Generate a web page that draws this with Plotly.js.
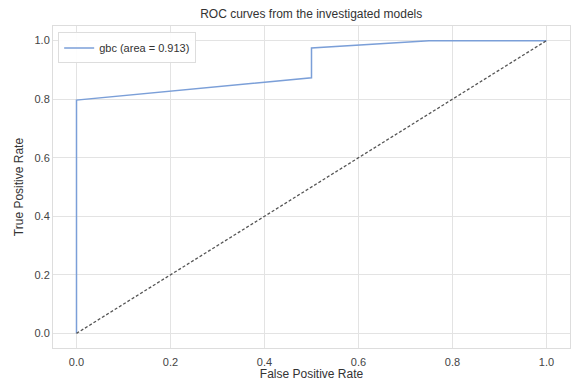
<!DOCTYPE html>
<html><head><meta charset="utf-8">
<script src="https://cdn.plot.ly/plotly-3.0.1.min.js"></script>
<style>html,body{margin:0;padding:0;background:#fff}</style>
</head><body><div id="chart" style="width:571px;height:381px"></div>
<script>
const fpr = [0, 0, 0.5, 0.5, 0.75, 1.0];
const tpr = [0, 0.797, 0.873, 0.975, 1.0, 1.0];
const diagX = [0, 1];
const diagY = [0, 1];
const seriesName = 'gbc (area = 0.913)';
const xTicks = [0, 0.2, 0.4, 0.6, 0.8, 1.0];
const yTicks = [0, 0.2, 0.4, 0.6, 0.8, 1.0];
const fnt = 'Liberation Sans, Arial, sans-serif';
const data = [
  {x: fpr, y: tpr, mode: 'lines', name: seriesName, line: {color: '#7b9fd8', width: 1.5}},
  {x: diagX, y: diagY, mode: 'lines', showlegend: false, line: {color: '#555', width: 1.3, dash: '3px,2px'}}
];
const axisCommon = {
  showline: true, linecolor: '#dddddd', linewidth: 1, mirror: true,
  gridcolor: '#e3e3e3', gridwidth: 1, zeroline: false, ticks: '',
  tickfont: {family: fnt, size: 11, color: '#444'}, tickformat: '.1f'
};
const layout = {
  width: 571, height: 381,
  margin: {l: 53, r: 1, t: 26, b: 33},
  paper_bgcolor: '#fff', plot_bgcolor: '#fff',
  title: {text: 'ROC curves from the investigated models', font: {family: fnt, size: 12, color: '#333'}, x: 0.545, xanchor: 'center', y: 0.975, yanchor: 'top'},
  xaxis: Object.assign({}, axisCommon, {range: [-0.05, 1.05], tickvals: xTicks, ticklabelstandoff: 4,
    title: {text: 'False Positive Rate', font: {family: fnt, size: 12, color: '#333'}, standoff: 2}}),
  yaxis: Object.assign({}, axisCommon, {range: [-0.05, 1.05], tickvals: yTicks,
    title: {text: 'True Positive Rate', font: {family: fnt, size: 12, color: '#333'}, standoff: 8}}),
  legend: {x: 0.01, y: 0.98, xanchor: 'left', yanchor: 'top', bgcolor: 'rgba(255,255,255,0.9)', bordercolor: '#dddddd', borderwidth: 1,
    font: {family: fnt, size: 11, color: '#333'}, itemwidth: 30, tracegroupgap: 0},
  showlegend: true
};
Plotly.newPlot('chart', data, layout, {displayModeBar: false, staticPlot: true});
</script></body></html>
